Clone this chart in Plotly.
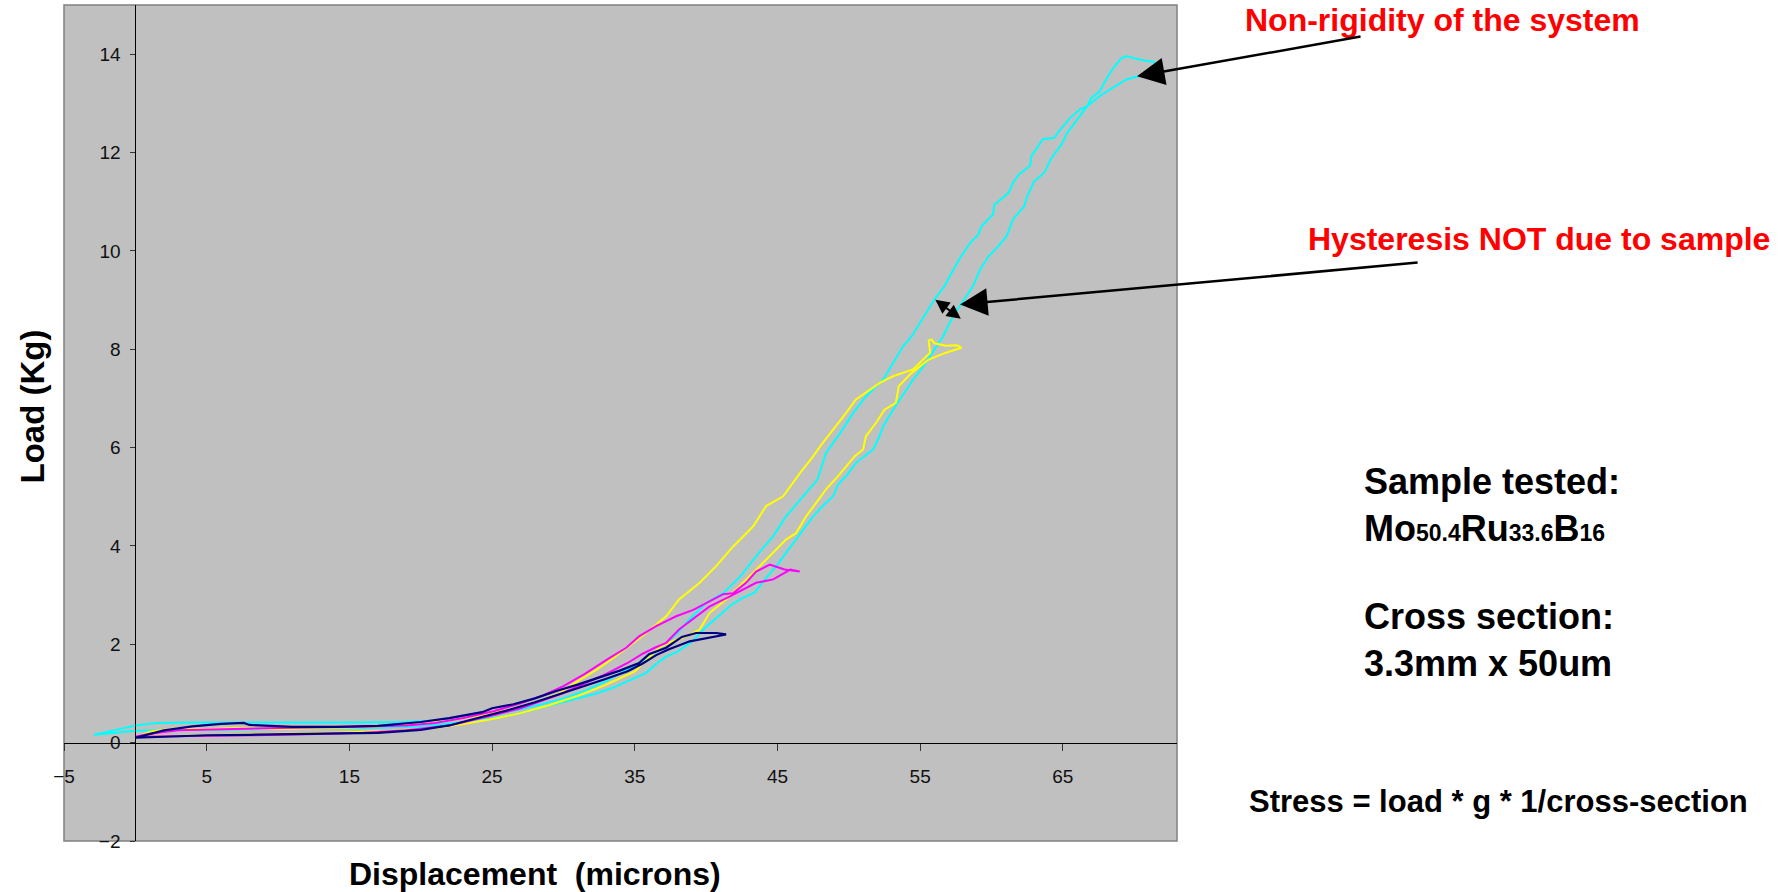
import plotly.graph_objects as go

# ---------------- data ----------------
navy_x = [0, 2, 5, 8, 11, 14, 17, 20, 22, 24, 26, 28, 29.7, 31.5, 33, 34.5, 35.5, 36.5, 37.4, 38.85, 40.25, 41.4,
          40.7, 39.3, 38.3, 37.2, 36, 35.3, 34, 32.5, 31, 29.5, 28, 26.5, 25, 24.3, 22, 20, 17, 14, 11, 8, 7.6, 6, 4, 2, 0]
navy_y = [0.10, 0.12, 0.15, 0.16, 0.17, 0.18, 0.20, 0.26, 0.35, 0.50, 0.65, 0.82, 0.98, 1.15, 1.30, 1.45, 1.60, 1.78, 1.90, 2.06, 2.13, 2.20,
          2.23, 2.23, 2.15, 1.93, 1.80, 1.62, 1.47, 1.32, 1.18, 1.05, 0.90, 0.78, 0.70, 0.62, 0.50, 0.42, 0.34, 0.32, 0.32, 0.36, 0.40, 0.38, 0.33, 0.25, 0.10]

magenta_x = [0, 4, 8, 12, 16, 19, 22, 25, 27, 29.9, 31.5, 33, 34.5, 35.5, 36.4, 37.2, 38.1, 39, 40.25, 41.5, 42.8, 43.5, 44.7, 45.9, 46.56,
             45.5, 44.46, 44.0, 43.5, 42.8, 41.9, 41.2, 40.0, 39.1, 37.9, 36.5, 35.3, 34.4, 33.1, 31.5, 30, 28.5, 27, 25.1, 23, 21, 19, 15, 10, 6, 3, 1, 0]
magenta_y = [0.12, 0.13, 0.15, 0.17, 0.20, 0.25, 0.35, 0.55, 0.70, 1.00, 1.20, 1.40, 1.62, 1.80, 1.93, 2.03, 2.30, 2.50, 2.77, 2.95, 3.15, 3.25, 3.32, 3.52, 3.48,
             3.52, 3.62, 3.55, 3.48, 3.25, 3.04, 3.02, 2.84, 2.70, 2.57, 2.37, 2.16, 1.93, 1.70, 1.40, 1.15, 0.95, 0.80, 0.64, 0.50, 0.40, 0.35, 0.32, 0.30, 0.28, 0.25, 0.18, 0.12]

yellow_x = [0.2, 3, 6, 10, 14, 18, 21, 23, 25, 27, 29, 31, 33, 35, 36.7, 37.5, 38.6, 39.55, 40.25, 41.4, 42.6, 43.5, 44.7, 45.6, 46.3,
            47.0, 47.7, 48.4, 49.25, 49.8, 50.4, 51.0, 51.2, 51.9, 52.5, 53.3, 53.5, 54.4, 55.0, 55.6, 56.8, 57.9, 57.6, 56.8, 56.0, 55.8, 55.6,
            55.7, 54.5, 53.1, 52.2, 51.2, 50.5, 49.8, 48.9, 48.0, 47.5, 46.6, 45.4, 44.2, 43.3, 41.9, 40.7, 39.55, 38.1, 37.2, 35.8, 34.6,
            33.5, 32.3, 31, 29.7, 28, 26, 24, 22, 20, 17, 14, 10, 7, 5, 3, 1, 0.2]
yellow_y = [0.12, 0.14, 0.16, 0.18, 0.20, 0.24, 0.30, 0.38, 0.48, 0.60, 0.76, 0.95, 1.18, 1.45, 1.93, 2.05, 2.16, 2.30, 2.64, 2.91, 3.25, 3.52, 3.86, 4.13, 4.26,
            4.60, 4.87, 5.15, 5.42, 5.62, 5.82, 5.96, 6.23, 6.50, 6.77, 6.91, 7.25, 7.52, 7.65, 7.79, 7.93, 8.03, 8.08, 8.07, 8.12, 8.20, 8.18,
            7.93, 7.59, 7.45, 7.32, 7.11, 6.98, 6.70, 6.37, 6.03, 5.82, 5.49, 5.01, 4.81, 4.40, 3.99, 3.59, 3.25, 2.91, 2.57, 2.23, 1.96,
            1.72, 1.48, 1.25, 1.00, 0.82, 0.66, 0.54, 0.45, 0.38, 0.33, 0.30, 0.28, 0.30, 0.27, 0.30, 0.22, 0.12]

cyan_x = [-2.9, -1.5, 0, 2, 5, 8, 12, 16, 19, 21, 23, 25, 27, 29, 31, 32.3, 33.5, 34.5, 35.8, 36.5, 37.2, 38, 39.0, 39.8, 40.8, 41.8,
          42.6, 43.4, 44.2, 45.0, 45.6, 46.5, 47.5, 48.3, 48.9, 49.25, 49.9, 50.5, 51.2, 51.7, 52.1, 52.4, 53.1, 53.7, 54.5, 55.1, 55.7,
          56.6, 57.3, 57.8, 58.7, 59.2, 59.8, 60.5, 61.06, 61.5, 62.3, 62.5, 63.0, 63.7, 64.2, 64.9, 65.3, 66.0, 66.7, 67.6, 68.5, 69.5,
          70.3, 71.0, 71.7, 71.3, 70.9, 70.2, 69.5, 69.1, 68.8, 68.5, 68.1, 67.6, 66.99, 66.7, 66.2, 65.5, 64.8, 64.4, 63.6, 62.8, 62.7,
          61.9, 61.5, 61.2, 60.2, 60.1, 59.3, 59.07, 58.5, 57.8, 57.2, 56.7, 56.0, 55.0, 54.4, 53.8, 53.1, 52.4, 51.2, 50.3, 49.4, 48.4,
          47.8, 46.8, 45.6, 44.7, 43.5, 42.4, 41.2, 40.0, 38.8, 38.0, 36.7, 35.5, 34.2, 33, 31.5, 30, 28.5, 27, 25, 23, 21, 19, 15, 10,
          7.6, 4, 1.5, 0, -1.5, -2.9]
cyan_y = [0.16, 0.20, 0.24, 0.25, 0.26, 0.27, 0.28, 0.30, 0.32, 0.36, 0.42, 0.50, 0.60, 0.75, 0.90, 1.00, 1.12, 1.25, 1.42, 1.60, 1.75, 1.85, 2.05, 2.30, 2.55, 2.81,
          2.95, 3.05, 3.35, 3.62, 3.86, 4.20, 4.60, 4.85, 5.01, 5.25, 5.45, 5.69, 5.85, 5.96, 6.20, 6.43, 6.77, 7.04, 7.38, 7.60, 7.86,
          8.26, 8.67, 8.88, 9.28, 9.62, 9.89, 10.10, 10.30, 10.64, 10.91, 11.11, 11.42, 11.59, 11.89, 12.16, 12.40, 12.67, 12.94, 13.15, 13.32, 13.49,
          13.55, 13.62, 13.79, 13.85, 13.86, 13.90, 13.96, 13.92, 13.82, 13.70, 13.52, 13.25, 13.11, 12.94, 12.88, 12.70, 12.46, 12.30, 12.27, 11.93, 11.73,
          11.55, 11.38, 11.18, 10.94, 10.74, 10.50, 10.33, 10.16, 9.86, 9.55, 9.28, 9.01, 8.54, 8.26, 8.06, 7.72, 7.38, 7.04, 6.70, 6.30, 5.89,
          5.35, 5.01, 4.60, 4.20, 3.79, 3.38, 3.04, 2.84, 2.50, 2.23, 1.89, 1.65, 1.45, 1.25, 1.05, 0.90, 0.78, 0.68, 0.58, 0.50, 0.45, 0.42, 0.41, 0.41,
          0.42, 0.41, 0.40, 0.35, 0.25, 0.16]

x_ticks = [-5, 5, 15, 25, 35, 45, 55, 65]
y_ticks = [-2, 0, 2, 4, 6, 8, 10, 12, 14]
x_range = [-5, 73]
y_range = [-2, 15]

# annotation targets (data coordinates)
rigidity_tip = (70.2, 13.55)
hyst_tip = (57.8, 8.91)
double_tip = (57.85, 8.62)

# ---------------- layout geometry ----------------
W, H = 1787, 892
L, R, T, B = 63.5, 1177, 5, 841


def pxx(p):
    return (p - L) / (R - L)


def pxy(p):
    return (B - p) / (B - T)


FONT = "Liberation Sans, Arial, sans-serif"

fig = go.Figure()
series = [(cyan_x, cyan_y, "#00FFFF", 2), (yellow_x, yellow_y, "#FFFF00", 2),
          (magenta_x, magenta_y, "#FF00FF", 2), (navy_x, navy_y, "#000080", 2.2)]
for xs, ys, c, w in series:
    fig.add_trace(go.Scatter(x=xs, y=ys, mode="lines", line=dict(color=c, width=w),
                             showlegend=False, hoverinfo="skip"))

fig.update_layout(
    width=W, height=H,
    margin=dict(l=L, r=W - R, t=T, b=H - B, pad=0),
    paper_bgcolor="white", plot_bgcolor="#C0C0C0",
    showlegend=False,
    font=dict(family=FONT, color="black"),
    xaxis=dict(range=x_range, anchor="free", position=(0 - y_range[0]) / (y_range[1] - y_range[0]),
               showline=True, linecolor="black", linewidth=1, ticks="outside", ticklen=7,
               tickcolor="#333333", tickwidth=1, tickvals=x_ticks, showgrid=False, zeroline=False,
               tickfont=dict(size=19, family=FONT, color="#111111"), ticklabelstandoff=10),
    yaxis=dict(range=y_range, anchor="free", position=(0 - x_range[0]) / (x_range[1] - x_range[0]),
               showline=True, linecolor="black", linewidth=1, ticks="outside", ticklen=5,
               tickcolor="#333333", tickwidth=1, tickvals=y_ticks, showgrid=False, zeroline=False,
               tickfont=dict(size=19, family=FONT, color="#111111"), ticklabelstandoff=6),
)

# frame around plot area
fig.add_shape(type="rect", xref="paper", yref="paper", x0=0, y0=0, x1=1, y1=1,
              line=dict(color="#808080", width=1.5), layer="below")

ann = []
# axis titles
ann.append(dict(text="<b>Displacement  (microns)</b>", xref="paper", yref="paper",
                x=pxx(535), y=pxy(874), xanchor="center", yanchor="middle", showarrow=False,
                font=dict(size=32, family=FONT, color="black")))
ann.append(dict(text="<b>Load (Kg)</b>", xref="paper", yref="paper", textangle=-90,
                x=pxx(31), y=pxy(407), xanchor="center", yanchor="middle", showarrow=False,
                font=dict(size=33, family=FONT, color="black")))
# red labels
ann.append(dict(text="<b>Non-rigidity of the system</b>", xref="paper", yref="paper",
                x=pxx(1244), y=pxy(20), xanchor="left", yanchor="middle", showarrow=False,
                borderpad=0, font=dict(size=32, family=FONT, color="#FF0000")))
ann.append(dict(text="<b>Hysteresis NOT due to sample</b>", xref="paper", yref="paper",
                x=pxx(1306), y=pxy(239), xanchor="left", yanchor="middle", showarrow=False,
                font=dict(size=32, family=FONT, color="#FF0000")))
# black info text
sub = "<span style='font-size:23px'>%s</span>"
ann.append(dict(text="<b>Sample tested:<br>Mo" + sub % "50.4" + "Ru" + sub % "33.6" + "B" + sub % "16" + "</b>",
                xref="paper", yref="paper", x=pxx(1362), y=pxy(505), xanchor="left", yanchor="middle",
                align="left", showarrow=False, font=dict(size=36, family=FONT, color="black")))
ann.append(dict(text="<b>Cross section:<br>3.3mm x 50um</b>",
                xref="paper", yref="paper", x=pxx(1362), y=pxy(640), xanchor="left", yanchor="middle",
                align="left", showarrow=False, font=dict(size=36, family=FONT, color="black")))
ann.append(dict(text="<b>Stress = load * g * 1/cross-section</b>", xref="paper", yref="paper",
                x=pxx(1247), y=pxy(801), xanchor="left", yanchor="middle", showarrow=False,
                font=dict(size=31, family=FONT, color="black")))
# arrows
ann.append(dict(text="", x=rigidity_tip[0], y=rigidity_tip[1], xref="x", yref="y",
                ax=225, ay=-40, showarrow=True, arrowhead=2, arrowsize=2.2, arrowwidth=2.5,
                arrowcolor="black", standoff=0))
ann.append(dict(text="", x=hyst_tip[0], y=hyst_tip[1], xref="x", yref="y",
                ax=459, ay=-42, showarrow=True, arrowhead=2, arrowsize=2.2, arrowwidth=2.5,
                arrowcolor="black", standoff=0))
ann.append(dict(text="", x=double_tip[0], y=double_tip[1], xref="x", yref="y",
                ax=-27, ay=-20, showarrow=True, arrowhead=2, arrowsize=1.4, arrowwidth=2,
                startarrowhead=2, startarrowsize=1.4, arrowside="end+start",
                arrowcolor="black", standoff=0, startstandoff=0))
fig.update_layout(annotations=ann)

fig.write_html("out.html")
